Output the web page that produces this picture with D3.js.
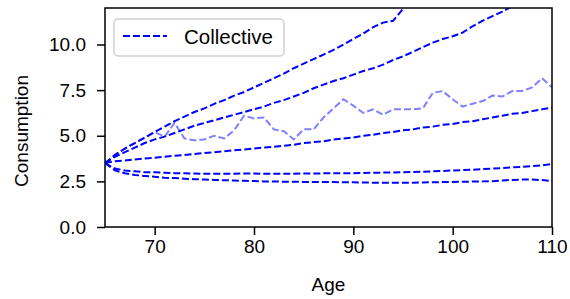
<!DOCTYPE html>
<html><head><meta charset="utf-8">
<script src="https://cdn.jsdelivr.net/npm/d3@7"></script>
<style>body{margin:0;background:#fff}svg{display:block}text{font-family:"Liberation Sans",Arial,sans-serif;fill:#000}</style>
</head><body>
<script>
const ages = d3.range(65, 111);
const q95 = [3.5,3.95,4.3,4.6,4.9,5.2,5.5,5.8,6.05,6.3,6.5,6.75,6.95,7.2,7.4,7.65,7.9,8.15,8.4,8.7,8.95,9.2,9.45,9.7,10.0,10.3,10.6,10.95,11.2,11.3,11.95,12.5,13.0];
const q75 = [3.5,3.85,4.1,4.35,4.6,4.8,4.95,5.15,5.35,5.55,5.7,5.85,6.0,6.15,6.3,6.45,6.6,6.8,6.95,7.15,7.35,7.6,7.8,8.0,8.15,8.35,8.55,8.7,8.9,9.15,9.35,9.6,9.85,10.1,10.3,10.45,10.65,11.0,11.3,11.55,11.8,12.1,12.4];
const q50 = [3.5,3.6,3.65,3.7,3.75,3.8,3.85,3.9,3.95,4.0,4.05,4.1,4.15,4.2,4.25,4.3,4.35,4.4,4.45,4.5,4.6,4.65,4.7,4.8,4.85,4.9,5.0,5.05,5.15,5.2,5.3,5.35,5.45,5.5,5.6,5.65,5.75,5.8,5.9,6.0,6.1,6.2,6.25,6.35,6.45,6.55];
const q25 = [3.5,3.2,3.1,3.05,3.0,3.0,2.97,2.95,2.95,2.93,2.92,2.92,2.92,2.92,2.93,2.93,2.92,2.92,2.92,2.92,2.93,2.93,2.94,2.94,2.95,2.95,2.96,2.97,2.98,2.99,3.0,3.02,3.03,3.05,3.07,3.1,3.12,3.14,3.17,3.2,3.23,3.27,3.3,3.34,3.38,3.45];
const q05 = [3.5,3.1,2.95,2.85,2.8,2.75,2.7,2.68,2.65,2.62,2.6,2.58,2.56,2.55,2.53,2.52,2.5,2.5,2.48,2.48,2.47,2.47,2.46,2.46,2.45,2.45,2.44,2.43,2.42,2.42,2.43,2.43,2.44,2.45,2.46,2.47,2.48,2.49,2.5,2.51,2.55,2.58,2.6,2.6,2.57,2.52];
const sample = [3.5,3.9,4.3,4.6,4.9,5.2,4.95,5.7,4.85,4.75,4.8,5.0,4.85,5.3,6.1,5.95,6.0,5.35,5.25,4.8,5.35,5.35,6.0,6.5,7.0,6.65,6.25,6.45,6.15,6.45,6.45,6.45,6.5,7.35,7.45,7.0,6.6,6.75,6.9,7.2,7.15,7.45,7.45,7.65,8.15,7.65];
const xTicks = [70,80,90,100,110];
const yTicks = [0,2.5,5,7.5,10];
const legendLabel = "Collective";

const W = 570, H = 299;
const m = {l:105, r:552, t:8, b:227};
const svg = d3.select("body").append("svg").attr("width",W).attr("height",H);
const x = d3.scaleLinear().domain([65,110]).range([m.l,m.r]);
const y = d3.scaleLinear().domain([0,12]).range([m.b,m.t]);

svg.append("clipPath").attr("id","clip").append("rect")
  .attr("x",m.l).attr("y",m.t).attr("width",m.r-m.l).attr("height",m.b-m.t);

const line = d3.line().x((d,i)=>x(ages[i])).y(d=>y(d));
const g = svg.append("g").attr("clip-path","url(#clip)");
const dash = "7,3";
g.append("path").datum(sample).attr("d",line).attr("fill","none")
  .attr("stroke","blue").attr("stroke-opacity",0.5).attr("stroke-width",2).attr("stroke-dasharray",dash);
[q95,q75,q50,q25,q05].forEach(s=>{
  g.append("path").datum(s).attr("d",line).attr("fill","none")
   .attr("stroke","blue").attr("stroke-width",2).attr("stroke-dasharray",dash);
});

const fs = 19;
const xa = svg.append("g").attr("transform",`translate(0,${m.b})`)
  .call(d3.axisBottom(x).tickValues(xTicks).tickFormat(d3.format("d")).tickSize(8).tickPadding(5));
const ya = svg.append("g").attr("transform",`translate(${m.l},0)`)
  .call(d3.axisLeft(y).tickValues(yTicks).tickFormat(d3.format(".1f")).tickSize(8).tickPadding(11));
[xa,ya].forEach(a=>{
  a.select(".domain").remove();
  a.selectAll("line").attr("stroke","#000").attr("stroke-width",1.5);
  a.selectAll("text").style("font-size",fs+"px").attr("fill","#000");
});
svg.append("rect").attr("x",m.l).attr("y",m.t).attr("width",m.r-m.l).attr("height",m.b-m.t)
  .attr("fill","none").attr("stroke","#000").attr("stroke-width",1.5);

svg.append("text").attr("x",(m.l+m.r)/2).attr("y",291).attr("text-anchor","middle")
  .style("font-size",fs+"px").text("Age");
svg.append("text").attr("transform",`translate(28,131) rotate(-90)`)
  .attr("text-anchor","middle").style("font-size",fs+"px").text("Consumption");

const lg = svg.append("g");
lg.append("rect").attr("x",114).attr("y",19).attr("width",170).attr("height",37).attr("rx",4)
  .attr("fill","#fff").attr("fill-opacity",0.8).attr("stroke","#d0d0d0").attr("stroke-width",1.5);
lg.append("line").attr("x1",123).attr("x2",167).attr("y1",36).attr("y2",36)
  .attr("stroke","blue").attr("stroke-width",2).attr("stroke-dasharray",dash);
lg.append("text").attr("x",184).attr("y",44).style("font-size","20.5px").text(legendLabel);
</script>
</body></html>
